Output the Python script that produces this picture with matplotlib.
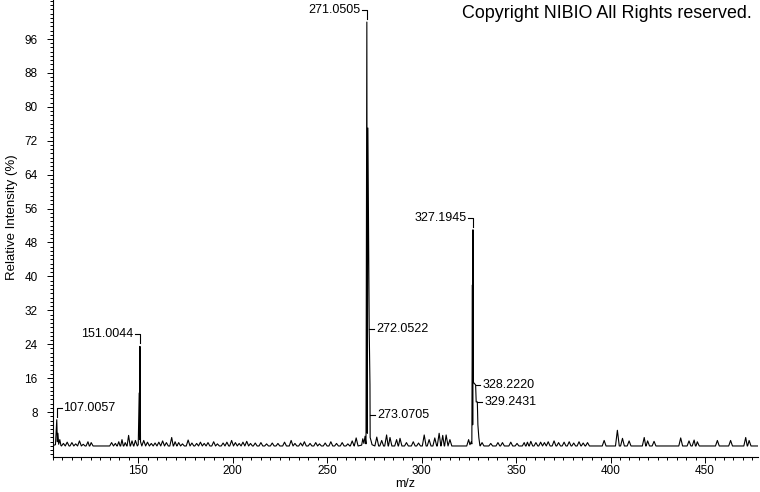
import matplotlib
matplotlib.use('Agg')
import matplotlib.pyplot as plt
from matplotlib.ticker import MultipleLocator
import numpy as np

plt.rcParams['font.family'] = ['Liberation Sans', 'DejaVu Sans']

# main peak groups (profile vertices)
g107_mz = [105.6, 106.3, 107.0, 107.3, 107.6, 108.0, 108.6, 109.2]
g107_int = [0.2, 0.3, 6.2, 1.0, 3.0, 0.4, 1.5, 0.1]
g151_mz = [150.1, 150.6, 150.8, 151.0, 151.3, 151.8]
g151_int = [0.3, 12.5, 1.5, 23.5, 1.0, 0.3]
g271_mz = [268.3, 268.9, 269.5, 270.1, 270.6, 271.05, 271.3, 271.6, 272.3, 272.7, 272.8, 273.3, 273.8]
g271_int = [0.2, 1.7, 0.6, 2.3, 0.5, 100.0, 3.0, 75.0, 27.6, 14.4, 2.0, 1.2, 0.3]
g327_mz = [323.9, 324.9, 325.6, 326.3, 326.6, 326.9, 327.05, 327.2, 327.45, 328.6, 328.9, 329.5, 329.8, 330.3, 330.8]
g327_int = [0.0, 1.5, 0.3, 1.0, 0.5, 38.0, 5.0, 51.0, 15.0, 14.4, 10.4, 10.4, 5.0, 2.0, 0.3]

# small noise bumps along the baseline
noise_mz = [110.5, 112.5, 115.0, 117.0, 119.0, 121.0, 123.5, 125.2,
            136.0, 138.0, 139.8, 141.5, 143.2, 145.0, 146.8, 148.6,
            153.0, 155.0, 157.0, 159.0, 161.0, 163.0, 165.0, 167.8, 169.6, 171.5, 173.5,
            176.5, 178.5, 181.0, 183.0, 185.0, 187.0, 190.0, 192.0, 195.0, 197.0,
            199.5, 201.5, 203.5, 205.5, 207.5, 209.5, 212.0, 215.0, 218.0, 221.0,
            224.0, 227.5, 231.0, 233.0, 236.0, 238.0, 241.0, 244.0, 246.0, 249.0,
            252.0, 255.0, 258.0, 261.0, 263.3, 265.4,
            276.3, 278.9, 281.5, 283.3, 286.8, 288.6, 292.0, 295.6, 298.4, 301.4,
            304.0, 307.0, 309.3, 311.2, 313.0, 315.0,
            332.0, 336.6, 340.4, 342.8, 347.2, 350.5, 354.3, 356.0, 357.8, 360.5,
            363.0, 365.0, 367.0, 370.1, 372.5, 375.4, 378.1, 380.5, 383.3, 385.5,
            387.8, 396.6, 403.6, 406.3, 409.8, 417.8, 419.6, 423.0,
            437.1, 441.5, 444.2, 445.9, 456.5, 463.5, 471.5, 473.3]
noise_int = [0.6, 0.9, 0.8, 0.5, 1.2, 0.4, 1.0, 0.8,
             0.8, 0.6, 1.0, 1.5, 0.8, 2.5, 1.2, 1.3,
             1.3, 0.9, 0.6, 0.7, 0.9, 1.2, 0.8, 2.0, 1.0, 0.8, 0.5,
             1.4, 0.7, 0.6, 0.9, 0.6, 0.8, 1.0, 0.5, 0.7, 0.9,
             1.3, 0.8, 0.6, 0.9, 1.1, 0.6, 0.7, 0.8, 0.5, 0.7,
             0.6, 0.9, 1.3, 0.6, 0.7, 1.0, 0.6, 0.8, 0.5, 0.7,
             1.0, 0.6, 0.8, 0.5, 1.2, 1.9,
             2.1, 1.3, 2.6, 2.0, 1.5, 1.8, 0.8, 1.0, 0.7, 2.6,
             1.5, 1.9, 3.0, 2.5, 2.6, 1.5,
             0.8, 0.6, 0.8, 0.8, 0.9, 0.6, 0.8, 0.9, 1.1, 0.8,
             0.9, 0.8, 1.0, 1.2, 0.8, 0.9, 1.0, 0.7, 1.0, 0.7,
             0.8, 1.3, 3.7, 1.8, 1.2, 2.0, 1.2, 1.1,
             1.9, 1.2, 1.4, 1.0, 1.3, 1.3, 2.0, 1.3]

# peak labels: hook above the peak (side -1 = text left, +1 = text right)
top_labels = ['107.0057', '151.0044', '271.0505', '327.1945']
top_mz = [107.0, 151.0, 271.05, 327.2]
top_int = [6.2, 23.5, 100.0, 51.0]
top_side = [1, -1, -1, -1]
# labels attached with a short tick to the right of the profile
side_labels = ['272.0522', '273.0705', '328.2220', '329.2431']
side_mz = [272.35, 272.72, 328.6, 329.5]
side_int = [27.6, 7.3, 14.4, 10.4]

xmin, xmax = 105, 478
ymin, ymax = -2.6, 105.2

# build the profile line
w = 1.0
pts = list(zip(g107_mz, g107_int)) + list(zip(g151_mz, g151_int)) \
    + list(zip(g271_mz, g271_int)) + list(zip(g327_mz, g327_int))
for m, h in zip(noise_mz, noise_int):
    pts += [(m - w, 0.0), (m, h), (m + w, 0.0)]
pts.append((xmax, 0.0))
pts.sort()
mz = np.array([p[0] for p in pts])
inten = np.array([p[1] for p in pts])

fig = plt.figure(figsize=(7.6, 4.92), dpi=100)
ax = fig.add_axes([53 / 760, 35 / 492, 705 / 760, 457 / 492])
ax.plot(mz, inten, color='black', lw=0.8)
ax.set_xlim(xmin, xmax)
ax.set_ylim(ymin, ymax)

# pixel -> data conversion
dx = (xmax - xmin) / 705.0
dy = (ymax - ymin) / 457.0

lab_fs = 9
for t, m, h, s in zip(top_labels, top_mz, top_int, top_side):
    y0 = h + 3 * dy
    y1 = y0 + 9 * dy
    x1 = m + s * 5 * dx
    ax.plot([m, m, x1], [y0, y1, y1], color='black', lw=0.8)
    ax.text(x1 + s * 1.5 * dx, y1, t, fontsize=lab_fs,
            ha='left' if s > 0 else 'right', va='center')
for t, m, h in zip(side_labels, side_mz, side_int):
    ax.plot([m, m + 4.5 * dx], [h, h], color='black', lw=0.8)
    ax.text(m + 7 * dx, h, t, fontsize=lab_fs, ha='left', va='center')

for s in ['top', 'right']:
    ax.spines[s].set_visible(False)
ax.spines['left'].set_linewidth(0.8)
ax.spines['bottom'].set_linewidth(0.8)

ax.xaxis.set_major_locator(MultipleLocator(50))
ax.xaxis.set_minor_locator(MultipleLocator(5))
ax.yaxis.set_minor_locator(MultipleLocator(1))
ax.set_yticks([v for v in range(8, 100, 8)])
ax.tick_params(axis='both', which='major', direction='out', length=4.5, width=0.7, labelsize=8.5)
ax.tick_params(axis='both', which='minor', direction='out', length=2.5, width=0.7)
ax.tick_params(axis='y', which='major', pad=6.5)
ax.tick_params(axis='x', which='major', pad=1.5)

ax.set_xlabel('m/z', fontsize=9)
ax.xaxis.set_label_coords(0.499, -0.046)
ax.set_ylabel('Relative Intensity (%)', fontsize=9.5)
ax.yaxis.set_label_coords(-0.05, 0.525)

fig.text(752 / 760, 1 - 14 / 492, 'Copyright NIBIO All Rights reserved.',
         fontsize=12.9, ha='right', va='center')

plt.savefig('out.png', dpi=100)
